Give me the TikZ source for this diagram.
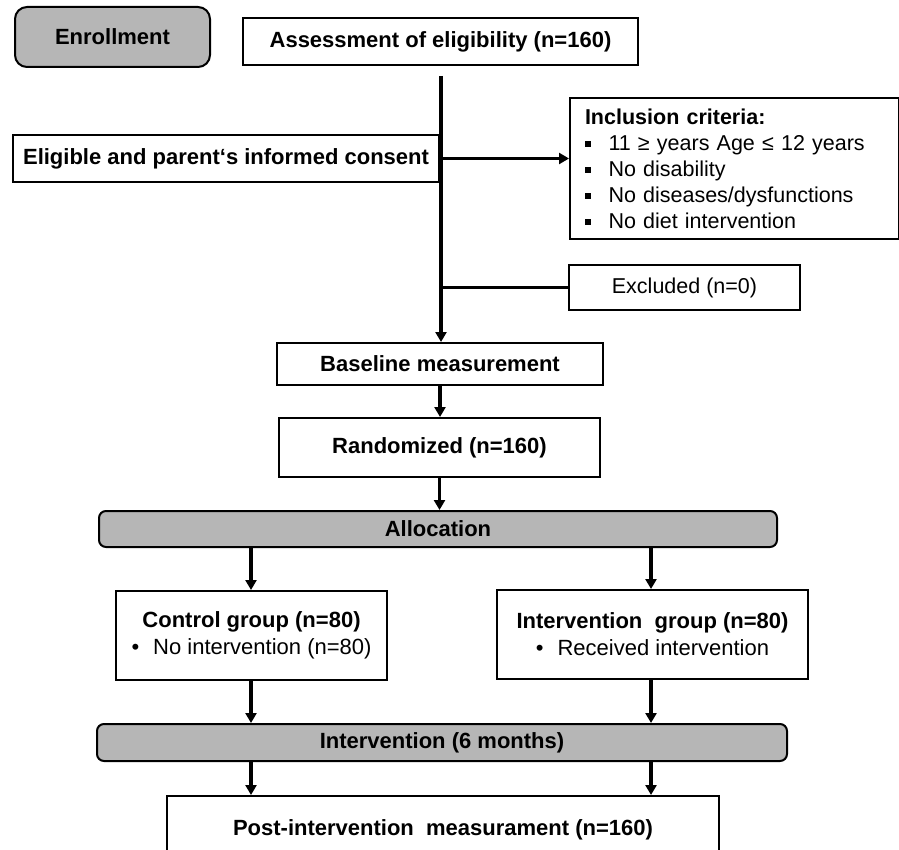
\documentclass[tikz,border=0pt]{standalone}
\usepackage{fontspec}
\setmainfont{Liberation Sans}
\usetikzlibrary{arrows.meta}
\definecolor{boxgray}{RGB}{182,182,182}
\newcommand{\sqb}{\rule[3.5pt]{5.5pt}{5.5pt}}
\begin{document}
\begin{tikzpicture}[x=1pt,y=-1pt,
  box/.style={draw, line width=2pt, fill=white, inner sep=0pt, align=center,
    font=\fontsize{22}{27}\selectfont\bfseries},
  gbox/.style={box, fill=boxgray, rounded corners=7pt},
  link/.style={line width=3.3pt},
  arr/.style={link, -{Triangle[width=11pt,length=10pt]}},
]
\clip (0,0) rectangle (899,850);
\fill[white] (0,0) rectangle (899,850);

% enrollment block
\node[box, fill=boxgray, rounded corners=12pt, minimum width=195pt, minimum height=60pt] (enrol) at (112.5,37) {Enrollment};
\node[box, minimum width=395pt, minimum height=47pt] (assess) at (440.5,41.5) {Assessment of eligibility (n=160)};
\node[box, minimum width=426pt, minimum height=47pt] (elig) at (226,158.5) {Eligible and parent‘s informed consent};
\node[box, anchor=north west, align=left, text width=299pt, inner xsep=15pt, minimum height=141pt,
  font=\fontsize{21.5}{26}\selectfont] (incl) at (569,97) {%
  \textbf{Inclusion criteria:}\\
  \sqb\hspace{18pt}11 ≥ years Age ≤ 12 years\\
  \sqb\hspace{18pt}No disability\\
  \sqb\hspace{18pt}No diseases/dysfunctions\\
  \sqb\hspace{18pt}No diet intervention};
\node[box, minimum width=231pt, minimum height=45pt, font=\fontsize{21.5}{26}\selectfont] (excl) at (684.5,287.5) {Excluded (n=0)};

% lower part
\node[box, minimum width=326pt, minimum height=42pt] (base) at (440,364) {Baseline measurement};
\node[box, minimum width=321pt, minimum height=59pt] (rand) at (439.5,447.5) {Randomized (n=160)};
\node[gbox, minimum width=678pt, minimum height=36pt] (alloc) at (438,529) {Allocation};
\node[box, minimum width=271pt, minimum height=89pt] (ctrl) at (251.5,635.5)
  {Control group (n=80)\\ {\normalfont •\hspace{14pt}No intervention (n=80)}};
\node[box, minimum width=311pt, minimum height=89pt] (intg) at (652.5,634.5)
  {Intervention\ \ group (n=80)\\ {\normalfont •\hspace{14pt}Received intervention}};
\node[gbox, minimum width=690pt, minimum height=37pt] (bar) at (442,742.5) {Intervention (6 months)};
\node[box, minimum width=552pt, minimum height=68pt] (post) at (443,830) {Post-intervention\ \ measurament (n=160)};

% connectors
\coordinate (t0) at (441,76);
\coordinate (xl) at (251,0);
\coordinate (xr) at (651,0);
\draw[arr] (t0) -- (t0 |- base.north);
\draw[arr] (elig.east) -- (elig.east -| incl.west);
\draw[link] (excl.west -| t0) -- (excl.west);
\draw[arr] (base.south) -- (base.south |- rand.north);
\draw[arr] (rand.south) -- (rand.south |- alloc.north);
\draw[arr] (alloc.south -| xl) -- (ctrl.north -| xl);
\draw[arr] (alloc.south -| xr) -- (intg.north -| xr);
\draw[arr] (ctrl.south -| xl) -- (bar.north -| xl);
\draw[arr] (intg.south -| xr) -- (bar.north -| xr);
\draw[arr] (bar.south -| xl) -- (post.north -| xl);
\draw[arr] (bar.south -| xr) -- (post.north -| xr);
\end{tikzpicture}
\end{document}
